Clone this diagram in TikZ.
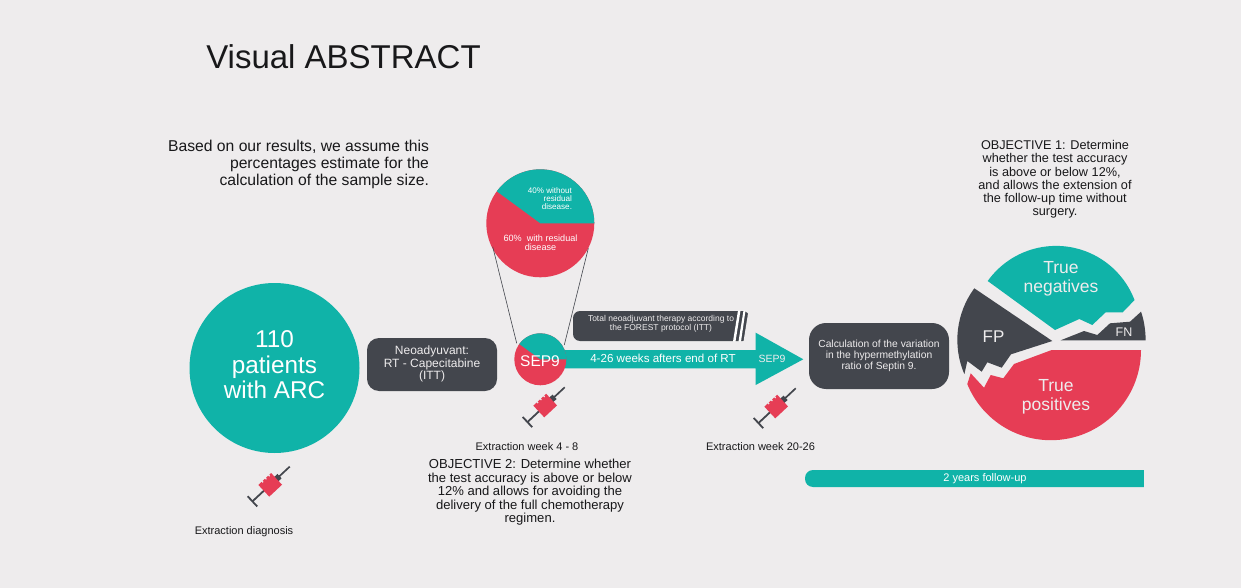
\documentclass[tikz,border=0pt]{standalone}
\usepackage{fontspec}
\setmainfont{Liberation Sans}
\definecolor{bgc}{HTML}{EEECED}
\definecolor{teal1}{HTML}{10B3A8}
\definecolor{red1}{HTML}{E63D55}
\definecolor{dark1}{HTML}{43464D}
\definecolor{ink}{HTML}{18181A}
\newcommand{\fs}[2]{\fontsize{#1}{#2}\selectfont}
\tikzset{
  lbl/.style={inner sep=0pt,outer sep=0pt,align=center,text=ink},
  wlbl/.style={inner sep=0pt,outer sep=0pt,align=center,text=white},
  syringe/.pic={
    \draw[dark1,line width=1.7] (8,0) -- (27,0);
    \fill[dark1] (7,-3) rectangle (13,3);
    \draw[dark1,line width=1.8] (-8,0) -- (-24,0);
    \draw[dark1,line width=1.8] (-24,-7) -- (-24,7);
    \fill[red1] (-8.5,8) -- (9,8) -- (9,-8) -- (6.5,-8) -- (6.5,-6.5) -- (5,-6.5) -- (5,-8) -- (2,-8) -- (2,-6.5) -- (0.5,-6.5) -- (0.5,-8) -- (-2.5,-8) -- (-2.5,-6.5) -- (-4,-6.5) -- (-4,-8) -- (-8.5,-8) -- cycle;
  }
}
\begin{document}
\begin{tikzpicture}[x=1pt,y=-1pt]
\useasboundingbox (0,0) rectangle (1241,588);
\fill[bgc] (0,0) rectangle (1241,588);

\node[lbl,font=\fs{33}{38}] (title) at (343.5,56.5) {Visual ABSTRACT};
\node[lbl,align=right,anchor=east,font=\fs{15.7}{17}] (based) at (429,164.5) {Based on our results, we assume this\\percentages estimate for the\\calculation of the sample size.};
\node[lbl,font=\fs{12.7}{13.2}] (obj1) at (1055,179.5) {OBJECTIVE 1: Determine\\whether the test accuracy\\is above or below 12\%,\\and allows the extension of\\the follow-up time without\\surgery.};
\node[lbl,font=\fs{13.05}{13.5}] (obj2) at (530,492.5) {OBJECTIVE 2: Determine whether\\the test accuracy is above or below\\12\% and allows for avoiding the\\delivery of the full chemotherapy\\regimen.};

% big circle
\node[circle,fill=teal1,minimum size=170pt,inner sep=0pt] (patients) at (274.5,368) {};
\node[wlbl,font=\fs{24.3}{25.5}] (patientstxt) at (274.5,365) {110\\patients\\with ARC};
\pic (syr1) at (270,485) [rotate=43] {syringe};
\node[lbl,font=\fs{11}{13}] (ext1) at (244,531.5) {Extraction diagnosis};

% neoadjuvant box
\node[rounded corners=12pt,fill=dark1,minimum width=130pt,minimum height=53pt,inner sep=0pt] (neo) at (432,364.5) {};
\node[wlbl,text=bgc,font=\fs{12}{12.8}] (neotxt) at (432,364) {Neoadyuvant:\\RT - Capecitabine\\(ITT)};

% zoom pie
\coordinate (bigpie) at (540.3,223.3);
\fill[red1] (bigpie) circle (54);
\fill[teal1] (bigpie) -- ++(0:54) arc (0:-143.7:54) -- cycle;
\node[wlbl,align=right,anchor=east,font=\fs{8.1}{8.2}] (p40) at (572,198.5) {40\% without\\residual\\disease.};
\node[wlbl,font=\fs{9.1}{9.6}] (p60) at (540.5,242.8) {60\%\ \ with residual\\disease};

% small pie
\coordinate (smallpie) at (540.3,359.3);
\coordinate (zl1) at (492.7,246.7);
\coordinate (zl2) at (516.7,343.3);
\coordinate (zr1) at (588.3,248.3);
\coordinate (zr2) at (564.3,345);
\draw[dark1,line width=0.6] (zl1) -- (zl2);
\draw[dark1,line width=0.6] (zr1) -- (zr2);

% arrow
\fill[teal1] (560,350) -- (755.7,350) -- (755.7,332.7) -- (803.3,359.3) -- (755.7,385) -- (755.7,368.3) -- (560,368.3) -- cycle;
\fill[red1] (smallpie) circle (26);
\fill[teal1] (smallpie) -- ++(0:26) arc (0:-144:26) -- cycle;
\node[wlbl,font=\fs{15.5}{17}] (sep) at (540,361.5) {SEP9};
\node[wlbl,font=\fs{11.6}{13}] (weeks) at (663,358.5) {4-26 weeks afters end of RT};
\node[wlbl,font=\fs{10.5}{12},text=bgc] (sep2) at (772,359) {SEP9};
\pic (syr2) at (545,405.7) [rotate=43] {syringe};
\pic (syr3) at (776,406.7) [rotate=43] {syringe};
\node[lbl,font=\fs{11}{13}] (ext2) at (527,446.5) {Extraction week 4 - 8};
\node[lbl,font=\fs{11}{13}] (ext3) at (760.5,446.5) {Extraction week 20-26};

% total box
\fill[dark1,rounded corners=7pt] (573,311) rectangle (749.5,341);
\fill[white] (738,310.5) -- (740.5,310.5) -- (735.5,341.5) -- (733,341.5) -- cycle;
\fill[white] (743.5,310.5) -- (745.5,310.5) -- (741,341.5) -- (738.5,341.5) -- cycle;
\fill[bgc] (748.5,310.5) -- (750,310.5) -- (750,341.5) -- (743.5,341.5) -- cycle;
\node[wlbl,text=bgc,font=\fs{8.5}{9}] (total) at (661,324.3) {Total neoadjuvant therapy according to\\the FOREST protocol (ITT)};

% calc box
\node[rounded corners=17pt,fill=dark1,minimum width=140pt,minimum height=66pt,inner sep=0pt] (calc) at (879,356) {};
\node[wlbl,text=bgc,font=\fs{10.3}{11}] (calctxt) at (879,356) {Calculation of the variation\\in the hypermethylation\\ratio of Septin 9.};

% result pie
\fill[teal1] (987.7,281) arc (-144.4:-20.8:84) -- (1122.7,312.3) -- (1105.7,312.3) -- (1092.3,325) -- (1079.3,319) -- (1055,330) -- cycle;
\fill[dark1] (974.3,288.3) arc (216.4:156.8:87) -- (967.3,361) -- (981.7,371.7) -- (987.3,362.3) -- (1001.7,367.7) -- (1011,354.3) -- (1052.3,341) -- cycle;
\fill[red1] (1141,350) arc (0:157.8:90.2) -- (970.7,373.3) -- (984,387.7) -- (990.7,375) -- (1003.3,378.3) -- (1014,364) -- (1051.7,350) -- cycle;
\fill[dark1] (1060.7,340.3) -- (1084,331) -- (1097.3,335) -- (1110,323.3) -- (1130,321.7) -- (1141,311.7) .. controls (1144,320) and (1145.5,330) .. (1145.7,340.3) -- cycle;
\node[wlbl,text=bgc,font=\fs{17.5}{19}] (tn) at (1061,279) {True\\negatives};
\node[wlbl,text=bgc,font=\fs{17.5}{19}] (tp) at (1056,396.5) {True\\positives};
\node[wlbl,text=bgc,font=\fs{17}{19}] (fp) at (993.5,336.5) {FP};
\node[wlbl,text=bgc,font=\fs{12.5}{14}] (fn) at (1124,332) {FN};

% follow-up bar
\fill[teal1,rounded corners=8pt] (805,470) rectangle (1160,487);
\fill[bgc] (1143.5,469) rectangle (1161,488);
\node[wlbl,font=\fs{11}{13}] (followup) at (985,479) {2 years follow-up};
\end{tikzpicture}
\end{document}
